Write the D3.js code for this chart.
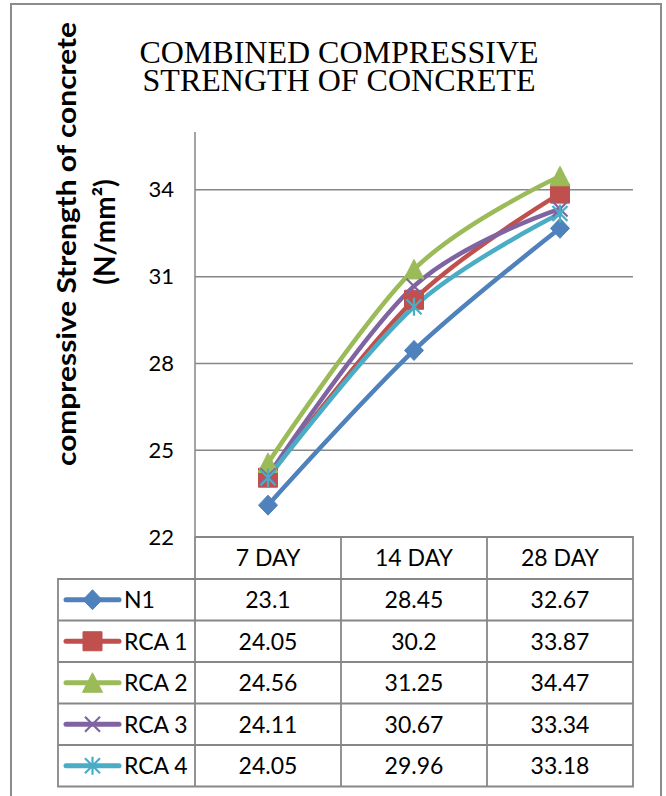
<!DOCTYPE html>
<html>
<head>
<meta charset="utf-8">
<script src="https://cdn.jsdelivr.net/npm/d3@7"></script>
<style>
  body { margin: 0; background: #fff; }
  svg { display: block; }
</style>
</head>
<body>
<div id="chart"></div>
<script>
// chart values
const days = ["7 DAY", "14 DAY", "28 DAY"];
const seriesNames = ["N1", "RCA 1", "RCA 2", "RCA 3", "RCA 4"];
const n1 = [23.1, 28.45, 32.67];
const rca1 = [24.05, 30.2, 33.87];
const rca2 = [24.56, 31.25, 34.47];
const rca3 = [24.11, 30.67, 33.34];
const rca4 = [24.05, 29.96, 33.18];
const yTicks = [22, 25, 28, 31, 34];
const titleLines = ["COMBINED COMPRESSIVE", "STRENGTH OF CONCRETE"];
const yTitleLines = ["compressive Strength of concrete", "(N/mm²)"];

const allSeries = [n1, rca1, rca2, rca3, rca4];
const myColors = ["#4F81BD", "#C0504D", "#9BBB59", "#8064A2", "#4BACC6"];
const markerTypes = ["diamond", "square", "triangle", "x", "star"];

const W = 666, H = 796;
const plot = {left: 195, right: 633, top: 132, bottom: 537};
const rowH = 41.5;
const headerBottom = 579;
const legendLeft = 58;
const gridColor = "#878787";

const svg = d3.select("#chart").append("svg")
    .attr("width", W)
    .attr("height", H);

// outer frame
svg.append("rect")
    .attr("x", 11).attr("y", 4)
    .attr("width", 650).attr("height", 810)
    .attr("fill", "none")
    .attr("stroke", "#8c8c8c")
    .attr("stroke-width", 2);

// title (one text block, two lines)
svg.append("text")
    .attr("text-anchor", "middle")
    .attr("font-family", "'Liberation Serif', 'Times New Roman', serif")
    .attr("font-size", 32)
    .attr("fill", "#000")
    .selectAll("tspan")
    .data(titleLines)
    .join("tspan")
    .attr("x", 339)
    .attr("y", (d, i) => 63 + i * 27.5)
    .text(d => d);

// y axis title
const yTitle = svg.append("g")
    .attr("font-family", "Lato, 'Open Sans', sans-serif")
    .attr("font-weight", "bold")
    .attr("fill", "#000");
yTitle.append("text")
    .attr("transform", "translate(76,244) rotate(-90)")
    .attr("text-anchor", "middle")
    .attr("font-size", 27)
    .attr("textLength", 444)
    .attr("lengthAdjust", "spacingAndGlyphs")
    .text(yTitleLines[0]);
yTitle.append("text")
    .attr("transform", "translate(115,232) rotate(-90)")
    .attr("text-anchor", "middle")
    .attr("font-size", 28)
    .text(yTitleLines[1]);

let x = d3.scaleBand()
    .domain(days)
    .range([plot.left, plot.right]);
let y = d3.scaleLinear()
    .domain([22, 36])
    .range([plot.bottom, plot.top]);

// grid
svg.append("g")
    .attr("stroke", gridColor)
    .attr("stroke-width", 1.5)
    .selectAll("line")
    .data(yTicks.filter(d => d > 22))
    .join("line")
    .attr("x1", plot.left)
    .attr("x2", plot.right)
    .attr("y1", d => y(d))
    .attr("y2", d => y(d));

// y axis
const yAxis = svg.append("g")
    .attr("transform", `translate(${plot.left},0)`)
    .call(d3.axisLeft(y).tickValues(yTicks).tickSize(0).tickPadding(21));
yAxis.select(".domain")
    .attr("stroke", gridColor)
    .attr("stroke-width", 1.5)
    .attr("d", `M0,${plot.top}V${plot.bottom}`);
yAxis.selectAll("text")
    .attr("font-family", "Lato, 'Open Sans', sans-serif")
    .attr("font-size", 22)
    .attr("fill", "#000");

// marker shapes
function markerPath(type) {
    if (type === "diamond") return "M0,-10L9.5,0L0,10L-9.5,0Z";
    if (type === "square") return "M-9.5,-9.5H9.5V9.5H-9.5Z";
    if (type === "triangle") return "M0,-10L10,9.5L-10,9.5Z";
    if (type === "x") return "M-7.5,-7.5L7.5,7.5M-7.5,7.5L7.5,-7.5";
    return "M-7.5,-7.5L7.5,7.5M-7.5,7.5L7.5,-7.5M0,-9L0,9";
}
function drawMarker(g, i) {
    const t = markerTypes[i];
    const open = t === "x" || t === "star";
    g.append("path")
        .attr("d", markerPath(t))
        .attr("fill", open ? "none" : myColors[i])
        .attr("stroke", myColors[i])
        .attr("stroke-width", open ? 2.2 : 1);
}

// lines
const line = d3.line()
    .x((d, j) => x(days[j]) + x.bandwidth() / 2)
    .y(d => y(d))
    .curve(d3.curveCardinal.tension(0));

const dataRegion = svg.append("g");
allSeries.forEach((vals, i) => {
    dataRegion.append("path")
        .datum(vals)
        .attr("d", line)
        .attr("fill", "none")
        .attr("stroke", myColors[i])
        .attr("stroke-width", 4.5)
        .attr("stroke-linecap", "round")
        .attr("stroke-linejoin", "round");
});
allSeries.forEach((vals, i) => {
    vals.forEach((v, j) => {
        const g = dataRegion.append("g")
            .attr("transform", `translate(${x(days[j]) + x.bandwidth() / 2},${y(v)})`);
        drawMarker(g, i);
    });
});

// data table
const table = svg.append("g");
const tableFont = "Lato, 'Open Sans', sans-serif";
const tableBottom = headerBottom + rowH * seriesNames.length;

// header row
table.selectAll(".hdr")
    .data(days)
    .join("text")
    .attr("class", "hdr")
    .attr("x", d => x(d) + x.bandwidth() / 2)
    .attr("y", (plot.bottom + headerBottom) / 2)
    .attr("dy", "0.36em")
    .attr("text-anchor", "middle")
    .attr("font-family", tableFont)
    .attr("font-size", 23)
    .text(d => d);

// body rows
seriesNames.forEach((name, i) => {
    const cy = headerBottom + rowH * i + rowH / 2;
    const lg = table.append("g");
    lg.append("line")
        .attr("x1", 66).attr("x2", 119)
        .attr("y1", cy).attr("y2", cy)
        .attr("stroke", myColors[i])
        .attr("stroke-width", 5)
        .attr("stroke-linecap", "round");
    drawMarker(lg.append("g").attr("transform", `translate(92.5,${cy})`), i);
    lg.append("text")
        .attr("x", 124)
        .attr("y", cy)
        .attr("dy", "0.36em")
        .attr("font-family", tableFont)
        .attr("font-size", 23)
        .text(name);
    table.selectAll(".cell" + i)
        .data(allSeries[i])
        .join("text")
        .attr("x", (d, j) => x(days[j]) + x.bandwidth() / 2)
        .attr("y", cy)
        .attr("dy", "0.36em")
        .attr("text-anchor", "middle")
        .attr("font-family", tableFont)
        .attr("font-size", 23)
        .text(d => String(d));
});

// table borders
const borders = table.append("g")
    .attr("stroke", gridColor)
    .attr("stroke-width", 1.8)
    .attr("fill", "none");
borders.append("path")
    .attr("d", `M${plot.left},${plot.bottom}H${plot.right}V${tableBottom}H${legendLeft}V${headerBottom}H${plot.right}`);
borders.selectAll(".row")
    .data(d3.range(1, seriesNames.length))
    .join("line")
    .attr("x1", legendLeft).attr("x2", plot.right)
    .attr("y1", d => headerBottom + rowH * d)
    .attr("y2", d => headerBottom + rowH * d);
borders.selectAll(".col")
    .data(days)
    .join("line")
    .attr("x1", d => x(d)).attr("x2", d => x(d))
    .attr("y1", plot.bottom).attr("y2", tableBottom);
</script>
</body>
</html>
